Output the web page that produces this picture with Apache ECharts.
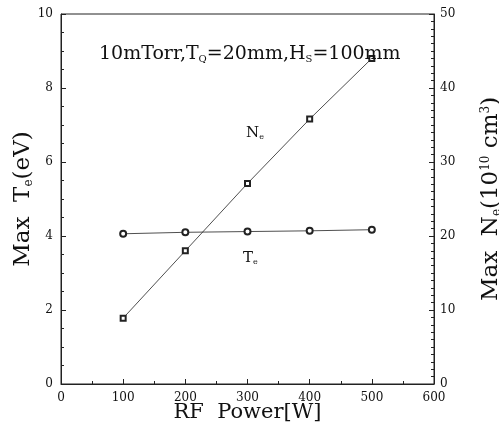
<!DOCTYPE html>
<html>
<head>
<meta charset="utf-8">
<script src="https://cdn.jsdelivr.net/npm/echarts@6/dist/echarts.min.js"></script>
<style>
  html, body { margin: 0; padding: 0; background: #fff; }
  #chart { width: 499px; height: 431px; }
</style>
</head>
<body>
<div id="chart"></div>
<script>
const powerList = [100, 200, 300, 400, 500];
const teList = [4.06, 4.1, 4.12, 4.14, 4.17];
const neList = [8.9, 18.0, 27.1, 35.8, 44.0];

const serif = 'DejaVu Serif';
const subRich = {
  b: { fontFamily: serif, fontSize: 23, color: '#111' },
  sub: { fontFamily: serif, fontSize: 12, color: '#111', verticalAlign: 'bottom' },
  sup: { fontFamily: serif, fontSize: 12, color: '#111', verticalAlign: 'top' },
};
const noteRich = {
  a: { fontFamily: serif, fontSize: 15, fontWeight: 'normal', color: '#111' },
  s: { fontFamily: serif, fontSize: 8, fontWeight: 'normal', color: '#111', verticalAlign: 'bottom', padding: [7, 0, 0, 0] },
};

const chart = echarts.init(document.getElementById('chart'));
const options = {
  animation: false,
  grid: {
    left: 61,
    right: 65,
    top: 14,
    bottom: 47,
    show: true,
    borderColor: '#222',
    borderWidth: 1,
    outerBoundsMode: 'none',
    containLabel: false,
  },
  title: [
    {
      left: 94,
      top: 40,
      text: '{a|10mTorr,T}{s|Q}{a|=20mm,H}{s|S}{a|=100mm}',
      textStyle: {
        fontWeight: 'normal',
        rich: {
          a: { fontFamily: serif, fontSize: 19, fontWeight: 'normal', color: '#111' },
          s: { fontFamily: serif, fontSize: 10, fontWeight: 'normal', color: '#111', verticalAlign: 'bottom', padding: [9, 0, 0, 0] },
        },
      },
    },
    {
      left: 241,
      top: 121,
      text: '{a|N}{s|e}',
      textStyle: { fontWeight: 'normal', rich: noteRich },
    },
    {
      left: 238,
      top: 246,
      text: '{a|T}{s|e}',
      textStyle: { fontWeight: 'normal', rich: noteRich },
    },
  ],
  xAxis: {
    type: 'value',
    min: 0,
    max: 600,
    interval: 100,
    name: 'RF  Power[W]',
    nameLocation: 'middle',
    nameMoveOverlap: false,
    nameGap: 18,
    nameTextStyle: { fontFamily: serif, fontSize: 21, color: '#111' },
    axisLine: { lineStyle: { color: '#222' } },
    axisTick: { inside: true, length: 5, lineStyle: { color: '#222' } },
    minorTick: { show: true, splitNumber: 2, length: 3, lineStyle: { color: '#222' } },
    splitLine: { show: false },
    axisLabel: { fontFamily: serif, fontSize: 12, color: '#111', margin: 8 },
  },
  yAxis: [
    {
      type: 'value',
      min: 0,
      max: 10,
      interval: 2,
      name: '{b|Max  T}{sub|e}{b|(eV)}',
      nameLocation: 'middle',
      nameRotate: 90,
      nameMoveOverlap: false,
      nameGap: 26,
      nameTextStyle: { rich: subRich },
      axisLine: { show: true, lineStyle: { color: '#222' } },
      axisTick: { inside: true, length: 5, lineStyle: { color: '#222' } },
      minorTick: { show: true, splitNumber: 4, length: 3, lineStyle: { color: '#222' } },
      splitLine: { show: false },
      axisLabel: { fontFamily: serif, fontSize: 12, color: '#111', margin: 8 },
    },
    {
      type: 'value',
      min: 0,
      max: 50,
      interval: 10,
      position: 'right',
      name: '{b|Max  N}{sub|e}{b|(10}{sup|10}{b| cm}{sup|3}{b|)}',
      nameLocation: 'middle',
      nameRotate: 90,
      nameMoveOverlap: false,
      nameGap: 46,
      nameTextStyle: { rich: subRich },
      axisLine: { show: true, lineStyle: { color: '#222' } },
      axisTick: { inside: true, length: 5, lineStyle: { color: '#222' } },
      minorTick: { show: true, splitNumber: 10, length: 3, lineStyle: { color: '#222' } },
      splitLine: { show: false },
      axisLabel: { fontFamily: serif, fontSize: 12, color: '#111', margin: 6 },
    },
  ],
  series: [
    {
      name: 'Te',
      type: 'line',
      yAxisIndex: 0,
      data: powerList.map((p, i) => [p, teList[i]]),
      symbol: 'emptyCircle',
      symbolSize: 6,
      lineStyle: { color: '#222', width: 0.8 },
      itemStyle: { color: '#222', borderWidth: 0.8 },
    },
    {
      name: 'Ne',
      type: 'line',
      yAxisIndex: 1,
      data: powerList.map((p, i) => [p, neList[i]]),
      symbol: 'emptyRect',
      symbolSize: 5,
      lineStyle: { color: '#222', width: 0.8 },
      itemStyle: { color: '#222', borderWidth: 0.8 },
    },
  ],
};
chart.setOption(options);
</script>
</body>
</html>
